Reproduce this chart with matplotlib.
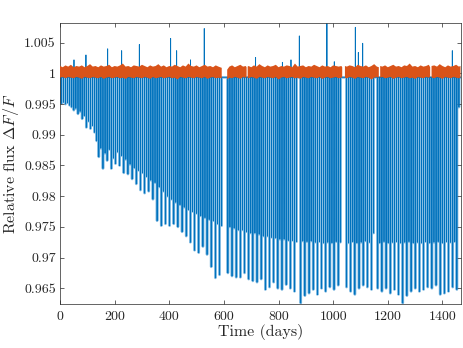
import matplotlib
matplotlib.use('Agg')
import matplotlib.pyplot as plt
import numpy as np

# transit mid-times (days) and the depth reached by each dip
transit_days = [
    4.9, 12.5, 20.1, 27.8, 35.4, 43.0, 50.6, 58.2, 65.9, 73.5,
    81.1, 88.7, 96.3, 104.0, 111.6, 119.2, 126.8, 134.4, 142.1, 149.7,
    157.3, 164.9, 172.5, 180.2, 187.8, 195.4, 203.0, 210.6, 218.3, 225.9,
    233.5, 241.1, 248.7, 256.4, 264.0, 271.6, 279.2, 286.8, 294.5, 302.1,
    309.7, 317.3, 324.9, 332.6, 340.2, 347.8, 355.4, 363.0, 370.7, 378.3,
    385.9, 393.5, 401.1, 408.8, 416.4, 424.0, 431.6, 439.2, 446.9, 454.5,
    462.1, 469.7, 477.3, 485.0, 492.6, 500.2, 507.8, 515.4, 523.1, 530.7,
    538.3, 545.9, 553.5, 561.2, 568.8, 576.4, 584.0, 591.6,
    614.5, 622.1, 629.7, 637.4, 645.0, 652.6, 660.2, 667.8, 675.5, 683.1,
    690.7, 698.3, 705.9, 713.6, 721.2, 728.8, 736.4, 744.0, 751.7, 759.3,
    766.9, 774.5, 782.1, 789.8, 797.4, 805.0, 812.6, 820.2, 827.9, 835.5,
    843.1, 850.7, 858.3, 866.0,
    881.2, 888.8, 896.4, 904.1, 911.7, 919.3, 926.9, 934.5, 942.2, 949.8,
    957.4, 965.0, 972.6, 980.3, 987.9, 995.5, 1003.1, 1010.7, 1018.4, 1026.0,
    1048.8, 1056.5, 1064.1, 1071.7, 1079.3, 1086.9, 1094.6, 1102.2, 1109.8,
    1117.4, 1125.0, 1132.7, 1140.3, 1147.9,
    1163.1, 1170.8, 1178.4, 1186.0, 1193.6, 1201.2, 1208.9, 1216.5, 1224.1,
    1231.7, 1239.3, 1247.0, 1254.6, 1262.2, 1269.8, 1277.4, 1285.1, 1292.7,
    1300.3, 1307.9, 1315.5, 1323.2, 1330.8, 1338.4, 1346.0, 1353.6, 1361.3,
    1368.9, 1376.5, 1384.1, 1391.7, 1399.4, 1407.0, 1414.6, 1422.2, 1429.8,
    1437.5, 1445.1, 1452.7, 1460.3]

transit_depths = [
    0.9951, 0.9953, 0.9950, 0.9952, 0.9948, 0.9945, 0.9940, 0.9943, 0.9934, 0.9938,
    0.9926, 0.9931, 0.9912, 0.9922, 0.9910, 0.9915, 0.9904, 0.9890, 0.9864, 0.9878,
    0.9845, 0.9870, 0.9858, 0.9876, 0.9845, 0.9862, 0.9853, 0.9872, 0.9850, 0.9866,
    0.9838, 0.9860, 0.9836, 0.9852, 0.9828, 0.9846, 0.9820, 0.9842, 0.9810, 0.9838,
    0.9805, 0.9832, 0.9808, 0.9826, 0.9795, 0.9822, 0.9760, 0.9815, 0.9752, 0.9808,
    0.9755, 0.9800, 0.9752, 0.9795, 0.9755, 0.9790, 0.9750, 0.9786, 0.9742, 0.9782,
    0.9735, 0.9778, 0.9725, 0.9775, 0.9712, 0.9772, 0.9708, 0.9768, 0.9718, 0.9765,
    0.9705, 0.9762, 0.9685, 0.9760, 0.9667, 0.9755, 0.9672, 0.9752,
    0.9675, 0.9750, 0.9670, 0.9748, 0.9668, 0.9745, 0.9668, 0.9745, 0.9675, 0.9742,
    0.9665, 0.9740, 0.9662, 0.9740, 0.9660, 0.9738, 0.9665, 0.9735, 0.9648, 0.9735,
    0.9652, 0.9733, 0.9660, 0.9732, 0.9650, 0.9730, 0.9648, 0.9730, 0.9656, 0.9728,
    0.9650, 0.9728, 0.9645, 0.9726,
    0.9626, 0.9727, 0.9638, 0.9726, 0.9642, 0.9727, 0.9648, 0.9725, 0.9640, 0.9726,
    0.9650, 0.9724, 0.9645, 0.9725, 0.9652, 0.9724, 0.9648, 0.9726, 0.9655, 0.9725,
    0.9652, 0.9724, 0.9645, 0.9726, 0.9640, 0.9724, 0.9650, 0.9725, 0.9655,
    0.9727, 0.9652, 0.9725, 0.9648, 0.9740,
    0.9650, 0.9724, 0.9645, 0.9726, 0.9650, 0.9724, 0.9642, 0.9725, 0.9648,
    0.9726, 0.9640, 0.9724, 0.9626, 0.9725, 0.9638, 0.9726, 0.9645, 0.9724,
    0.9650, 0.9725, 0.9645, 0.9724, 0.9648, 0.9726, 0.9652, 0.9724, 0.9650,
    0.9725, 0.9655, 0.9726, 0.9640, 0.9724, 0.9642, 0.9726, 0.9645, 0.9725,
    0.9652, 0.9726, 0.9648, 0.9945]

# upward outliers in the blue light curve
spike_days = [51.2, 95.0, 174.5, 225.7, 290.4, 405.0, 427.0, 478.0, 528.0,
              716.0, 814.0, 845.5, 876.0, 977.0, 1004.0, 1081.0, 1092.0, 1108.0, 1436.0]
spike_peaks = [1.0022, 1.0030, 1.0040, 1.0037, 1.0047, 1.0057, 1.0037, 1.0022, 1.0073,
               1.0026, 1.0018, 1.0022, 1.0061, 1.0081, 1.0019, 1.0075, 1.0034, 1.0049, 1.0037]

# residual (orange) noise band: upper and lower envelope, NaN marks data gaps
nan = np.nan
orange_days = [
    0, 10, 20, 30, 40, 50, 60, 70, 80, 90, 100, 110, 120, 130, 140, 150, 160, 170,
    180, 190, 200, 210, 220, 230, 240, 250, 260, 270, 280, 290, 300, 310, 320, 330,
    340, 350, 360, 370, 380, 390, 400, 410, 420, 430, 440, 450, 460, 470, 480, 490,
    500, 510, 520, 530, 540, 550, 560, 570, 580, 592, nan,
    612, 620, 630, 640, 650, 660, 670, 680, 683, nan,
    687, 690, 700, 710, 720, 730, 740, 750, 760, 770, 780, 790, 800, 810, 820, 830,
    840, 850, 860, 870, 880, 890, 900, 910, 920, 930, 940, 950, 960, 970, 980, 990,
    1000, 1010, 1020, 1030, 1033, nan,
    1043, 1050, 1060, 1070, 1080, 1090, 1100, 1110, 1120, 1130, 1140, 1150, 1160, 1167, nan,
    1172, 1180, 1190, 1200, 1210, 1220, 1230, 1240, 1250, 1260, 1270, 1280, 1290,
    1300, 1310, 1320, 1330, 1340, 1350, 1355, nan,
    1360, 1370, 1380, 1390, 1400, 1410, 1420, 1430, 1440, 1450, 1460, 1466]
orange_upper = [
    1.0012, 1.0010, 1.0013, 1.0011, 1.0014, 1.0010, 1.0012, 1.0011, 1.0013, 1.0010,
    1.0012, 1.0015, 1.0011, 1.0012, 1.0010, 1.0013, 1.0011, 1.0012, 1.0014, 1.0010,
    1.0012, 1.0011, 1.0013, 1.0016, 1.0011, 1.0012, 1.0010, 1.0013, 1.0012, 1.0011,
    1.0014, 1.0012, 1.0010, 1.0013, 1.0011, 1.0012, 1.0015, 1.0011, 1.0013, 1.0010,
    1.0012, 1.0011, 1.0014, 1.0012, 1.0010, 1.0013, 1.0011, 1.0016, 1.0012, 1.0011,
    1.0013, 1.0010, 1.0012, 1.0014, 1.0011, 1.0012, 1.0010, 1.0013, 1.0011, 1.0009, nan,
    1.0006, 1.0011, 1.0013, 1.0010, 1.0012, 1.0014, 1.0011, 1.0012, 1.0010, nan,
    1.0011, 1.0012, 1.0010, 1.0013, 1.0011, 1.0015, 1.0012, 1.0010, 1.0013, 1.0011,
    1.0012, 1.0014, 1.0010, 1.0012, 1.0011, 1.0013, 1.0012, 1.0010, 1.0016, 1.0011,
    1.0012, 1.0013, 1.0010, 1.0012, 1.0011, 1.0014, 1.0012, 1.0010, 1.0013, 1.0011,
    1.0012, 1.0010, 1.0013, 1.0012, 1.0011, 1.0012, 1.0010, nan,
    1.0012, 1.0011, 1.0013, 1.0012, 1.0010, 1.0014, 1.0012, 1.0011, 1.0013, 1.0010,
    1.0012, 1.0015, 1.0011, 1.0010, nan,
    1.0012, 1.0011, 1.0013, 1.0010, 1.0012, 1.0014, 1.0011, 1.0012, 1.0010, 1.0013,
    1.0012, 1.0016, 1.0011, 1.0012, 1.0010, 1.0013, 1.0011, 1.0012, 1.0014, 1.0010, nan,
    1.0012, 1.0013, 1.0011, 1.0015, 1.0012, 1.0010, 1.0013, 1.0011, 1.0012, 1.0014,
    1.0011, 1.0012]
orange_lower = [
    0.9993, 0.9994, 0.9992, 0.9994, 0.9993, 0.9992, 0.9994, 0.9993, 0.9991, 0.9994,
    0.9993, 0.9992, 0.9994, 0.9993, 0.9992, 0.9994, 0.9991, 0.9993, 0.9994, 0.9992,
    0.9993, 0.9994, 0.9992, 0.9993, 0.9991, 0.9994, 0.9993, 0.9992, 0.9994, 0.9993,
    0.9992, 0.9994, 0.9993, 0.9991, 0.9994, 0.9992, 0.9993, 0.9994, 0.9992, 0.9993,
    0.9994, 0.9992, 0.9993, 0.9990, 0.9994, 0.9993, 0.9992, 0.9994, 0.9993, 0.9992,
    0.9994, 0.9993, 0.9992, 0.9994, 0.9991, 0.9993, 0.9994, 0.9992, 0.9993, 0.9992, nan,
    0.9990, 0.9993, 0.9992, 0.9994, 0.9993, 0.9991, 0.9994, 0.9993, 0.9994, nan,
    0.9993, 0.9992, 0.9994, 0.9993, 0.9991, 0.9994, 0.9993, 0.9992, 0.9994, 0.9993,
    0.9992, 0.9994, 0.9990, 0.9993, 0.9994, 0.9992, 0.9993, 0.9994, 0.9992, 0.9993,
    0.9991, 0.9994, 0.9993, 0.9992, 0.9994, 0.9993, 0.9992, 0.9994, 0.9991, 0.9993,
    0.9994, 0.9992, 0.9993, 0.9994, 0.9992, 0.9993, 0.9994, nan,
    0.9993, 0.9992, 0.9994, 0.9993, 0.9991, 0.9994, 0.9993, 0.9992, 0.9994, 0.9993,
    0.9990, 0.9993, 0.9994, 0.9993, nan,
    0.9993, 0.9994, 0.9992, 0.9993, 0.9994, 0.9991, 0.9993, 0.9994, 0.9992, 0.9993,
    0.9994, 0.9992, 0.9993, 0.9991, 0.9994, 0.9993, 0.9992, 0.9994, 0.9993, 0.9994, nan,
    0.9993, 0.9992, 0.9994, 0.9993, 0.9991, 0.9994, 0.9993, 0.9992, 0.9994, 0.9993,
    0.9992, 0.9993]

x_ticks = [0, 200, 400, 600, 800, 1000, 1200, 1400]
y_ticks = [0.965, 0.97, 0.975, 0.98, 0.985, 0.99, 0.995, 1.0, 1.005]
y_tick_labels = ['0.965', '0.97', '0.975', '0.98', '0.985', '0.99', '0.995', '1', '1.005']

blue = '#0072BD'
light_blue = '#86bde3'
orange = '#D95319'
baseline = 0.99935

plt.rcParams['font.family'] = 'cmr10'
plt.rcParams['mathtext.fontset'] = 'cm'
plt.rcParams['axes.unicode_minus'] = False


def spiky_curve(days, values):
    # flat baseline with a narrow excursion at every listed day
    tt = [0.0]
    ff = [baseline]
    for t, v in sorted(zip(days, values)):
        tt += [t - 0.12, t, t + 0.12]
        ff += [baseline, v, baseline]
    tt.append(1466.0)
    ff.append(baseline)
    return tt, ff


t_dips, f_dips = spiky_curve(transit_days, transit_depths)
t_all, f_all = spiky_curve(transit_days + spike_days, transit_depths + spike_peaks)

fig = plt.figure(figsize=(4.63, 3.48), dpi=100)
ax = fig.add_axes([60 / 463, 1 - 304 / 348, 400.5 / 463, 281 / 348])

# dense sampling in the original gives the dips a pale halo around a dark core
ax.plot(t_dips, f_dips, color=light_blue, lw=1.9, snap=False, zorder=1)
ax.plot(t_all, f_all, color=blue, lw=0.6, snap=False, zorder=2)
ax.fill_between(orange_days, orange_lower, orange_upper, color=orange,
                lw=0, zorder=3)

ax.set_xlim(0, 1466)
ax.set_ylim(0.96245, 1.0082)
ax.set_xticks(x_ticks)
ax.set_xticklabels([str(v) for v in x_ticks])
ax.set_yticks(y_ticks)
ax.set_yticklabels(y_tick_labels)

ax.tick_params(direction='in', length=3.2, width=0.5, top=True, right=True,
               labelsize=10, colors='#262626')
ax.tick_params(axis='x', pad=5)
ax.tick_params(axis='y', pad=3)
for s in ax.spines.values():
    s.set_linewidth(0.5)
    s.set_color('#262626')

ax.set_xlabel('Time (days)', fontsize=11.5, color='#262626', labelpad=1)
ax.set_ylabel(r'Relative flux $\Delta F/F$', fontsize=11.5, color='#262626', labelpad=2)

fig.savefig('out.png', dpi=100)
